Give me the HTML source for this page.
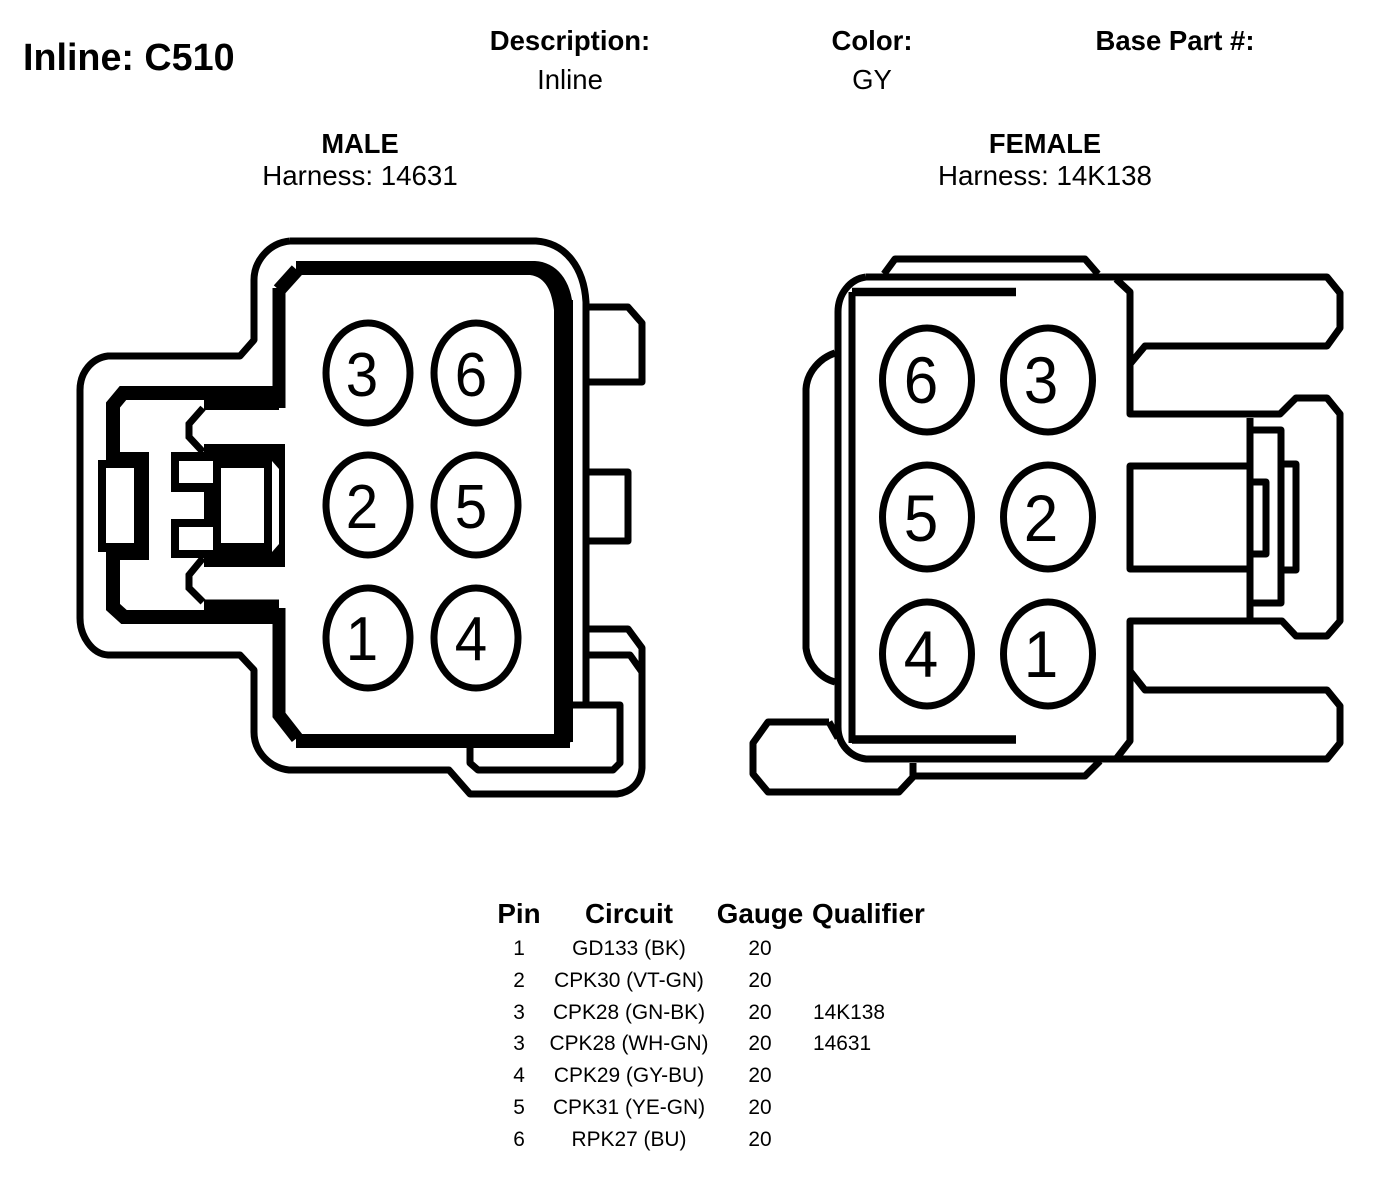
<!DOCTYPE html>
<html><head><meta charset="utf-8"><style>
html,body{margin:0;padding:0;background:#fff}
svg{display:block}
text{font-family:"Liberation Sans",sans-serif;fill:#000}
.b{font-weight:bold}
.m{text-anchor:middle}
</style></head><body>
<svg width="1392" height="1182" viewBox="0 0 1392 1182" xmlns="http://www.w3.org/2000/svg">
<rect width="1392" height="1182" fill="#fff"/>
<text x="23" y="70" class="b" font-size="37.700">Inline: C510</text>
<text x="570" y="50" class="b m" font-size="27.500">Description:</text>
<text x="570" y="89" class="m" font-size="27.500">Inline</text>
<text x="872" y="50" class="b m" font-size="27.500">Color:</text>
<text x="872" y="89" class="m" font-size="27.500">GY</text>
<text x="1175" y="50" class="b m" font-size="27.500">Base Part #:</text>
<text x="360" y="153" class="b m" font-size="27.300">MALE</text>
<text x="360" y="185" class="m" font-size="27.700">Harness: 14631</text>
<text x="1045" y="153" class="b m" font-size="27.300">FEMALE</text>
<text x="1045" y="185" class="m" font-size="27.700">Harness: 14K138</text>

<g fill="none" stroke="#000" stroke-width="7" stroke-linejoin="round">
<path d="M290,241H536C566,243 584,268 586,302V704"/>
<path d="M290,241C268,243 254,262 254,280V340L240,356H108C92,358 80,372 80,390V618C80,636 92,654 108,655H240L254,670V732C254,752 270,768 289,770H449L470,794H617C632,792 641,782 642,768V672L630,655H586"/>
<path d="M589,307H628L642,323V382H589"/>
<path d="M589,472H628V541H589"/>
<path d="M589,629H628L642,648V680"/>
<path d="M470,741V763L478,770H613L620,763V705H569V739H470"/>
</g>
<g fill="none" stroke="#000" stroke-linejoin="miter">
<path d="M279,290L297,270" stroke-width="14"/>
<path d="M279,288V408" stroke-width="13"/>
<path d="M563.500,300V742" stroke-width="19"/>
<path d="M296,741H570" stroke-width="14"/>
<path d="M279,608V715L297,738" stroke-width="13"/>
<path d="M279,400H204" stroke-width="20" />
<path d="M279,393H123L113,405V607L124,617H279" stroke-width="14"/>
<path d="M279,608H204" stroke-width="17"/>
<path d="M203,408L189,424V437L203,452" stroke-width="7"/>
<path d="M203,558L189,575V588L203,602" stroke-width="7"/>
</g>
<path d="M296,261H535C556,262 572,280 573,310H554C552,292 546,277 530,275H296Z" fill="#000"/>
<!-- latch -->
<rect x="204" y="444" width="81" height="123" fill="#000"/>
<rect x="221" y="468" width="43" height="75" fill="#fff"/>
<polygon points="272,461 279,469 279,544 272,552" fill="#fff"/>
<rect x="107" y="452" width="42" height="108" fill="#000"/>
<rect x="98" y="460" width="20" height="92" fill="#000"/>
<rect x="106" y="468" width="28" height="75" fill="#fff"/>
<rect x="171" y="452" width="42" height="40" fill="#000"/>
<rect x="179" y="461" width="34" height="22" fill="#fff"/>
<rect x="171" y="519" width="42" height="39" fill="#000"/>
<rect x="179" y="527" width="34" height="23" fill="#fff"/>

<g fill="none" stroke="#000" stroke-width="7">
<ellipse cx="368" cy="373" rx="42" ry="50"/>
<ellipse cx="476" cy="373" rx="42" ry="50"/>
<ellipse cx="368" cy="505" rx="42" ry="50"/>
<ellipse cx="476" cy="505" rx="42" ry="50"/>
<ellipse cx="368" cy="638" rx="42" ry="50"/>
<ellipse cx="476" cy="638" rx="42" ry="50"/>
</g>
<g font-size="62" text-anchor="middle">
<text transform="translate(362,396) scale(.94,1)">3</text>
<text transform="translate(471,396) scale(.94,1)">6</text>
<text transform="translate(362,528) scale(.94,1)">2</text>
<text transform="translate(471,528) scale(.94,1)">5</text>
<text transform="translate(362,660) scale(.94,1)">1</text>
<text transform="translate(471,660) scale(.94,1)">4</text>
</g>

<!-- female -->
<g fill="none" stroke="#000" stroke-width="7" stroke-linejoin="round">
<path d="M866,277H1327L1340,293V328L1327,346H1145L1130,364"/>
<path d="M1116,279L1130,292V414H1280L1296,398H1327L1340,414V621L1327,636H1296L1282,621H1130V741L1116,759"/>
<path d="M1130,671L1145,690H1327L1340,706V743L1327,759H866C850,757 838,744 838,727V312C838,294 850,279 866,277"/>
<path d="M884,274L895,259H1085L1098,274"/>
<path d="M913,776H1085L1100,761"/>
<path d="M829,722H768L753,743V774L768,792H899L913,777V763"/>
<path d="M829,722L838,738"/>
<path d="M835,353C820,358 807,372 806,389V648C808,664 820,678 835,682"/>
<path d="M852,292V743"/>
<path d="M1247,466H1130V569H1247"/>
<path d="M1250,418V619"/>
<path d="M1250,430H1281V603H1250"/>
<path d="M1253,482H1266V554H1253"/>
<path d="M1284,464H1296V570H1284"/>
</g>
<path d="M852,292H1016" stroke="#000" stroke-width="8.500" fill="none"/>
<path d="M852,739.500H1016" stroke="#000" stroke-width="8.500" fill="none"/>
<g fill="none" stroke="#000" stroke-width="7">
<ellipse cx="927" cy="380" rx="44.500" ry="52"/>
<ellipse cx="1048" cy="380" rx="44.500" ry="52"/>
<ellipse cx="927" cy="517" rx="44.500" ry="52"/>
<ellipse cx="1048" cy="517" rx="44.500" ry="52"/>
<ellipse cx="927" cy="654" rx="44.500" ry="52"/>
<ellipse cx="1048" cy="654" rx="44.500" ry="52"/>
</g>
<g font-size="66" text-anchor="middle">
<text transform="translate(921,403) scale(.94,1)">6</text>
<text transform="translate(1041,403) scale(.94,1)">3</text>
<text transform="translate(921,541) scale(.94,1)">5</text>
<text transform="translate(1041,541) scale(.94,1)">2</text>
<text transform="translate(921,677) scale(.94,1)">4</text>
<text transform="translate(1041,677) scale(.94,1)">1</text>
</g>

<!-- table -->
<g font-size="27.800">
<text x="519" y="923" class="b m">Pin</text>
<text x="629" y="923" class="b m">Circuit</text>
<text x="760" y="923" class="b m">Gauge</text>
<text x="812" y="923" class="b">Qualifier</text>
</g>
<g font-size="20.900">
<text x="519" y="955" class="m">1</text><text x="629" y="955" class="m">GD133 (BK)</text><text x="760" y="955" class="m">20</text>
<text x="519" y="987" class="m">2</text><text x="629" y="987" class="m">CPK30 (VT-GN)</text><text x="760" y="987" class="m">20</text>
<text x="519" y="1019" class="m">3</text><text x="629" y="1019" class="m">CPK28 (GN-BK)</text><text x="760" y="1019" class="m">20</text><text x="813" y="1019">14K138</text>
<text x="519" y="1050" class="m">3</text><text x="629" y="1050" class="m">CPK28 (WH-GN)</text><text x="760" y="1050" class="m">20</text><text x="813" y="1050">14631</text>
<text x="519" y="1082" class="m">4</text><text x="629" y="1082" class="m">CPK29 (GY-BU)</text><text x="760" y="1082" class="m">20</text>
<text x="519" y="1114" class="m">5</text><text x="629" y="1114" class="m">CPK31 (YE-GN)</text><text x="760" y="1114" class="m">20</text>
<text x="519" y="1146" class="m">6</text><text x="629" y="1146" class="m">RPK27 (BU)</text><text x="760" y="1146" class="m">20</text>
</g>
</svg>
</body></html>
